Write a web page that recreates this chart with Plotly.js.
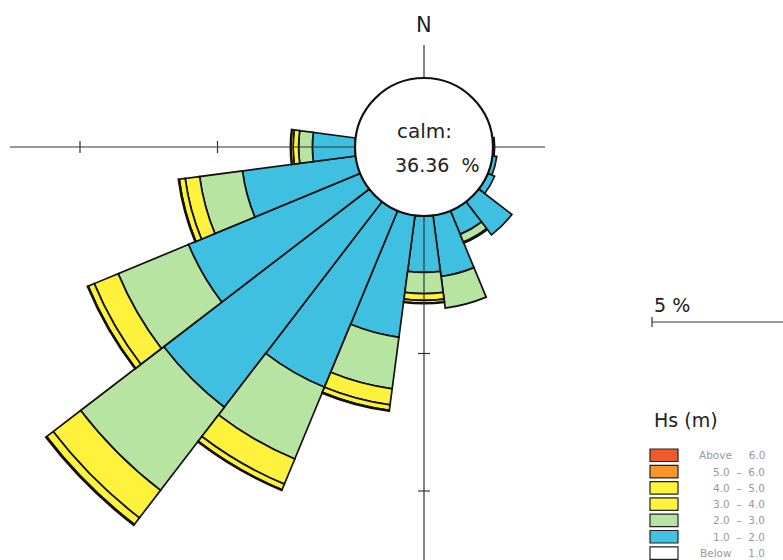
<!DOCTYPE html>
<html>
<head>
<meta charset="utf-8">
<script src="https://cdn.plot.ly/plotly-3.0.1.min.js"></script>
<style>
  html, body { margin:0; padding:0; width:783px; height:560px; overflow:hidden; background:#fff; }
  #chart { position:absolute; }
</style>
</head>
<body>
<div id="chart"></div>
<script>
// ---- data (percent of time per direction sector and Hs class) ----
const directions = [90, 105, 120, 135, 150, 165, 180, 195, 210, 225, 240, 255, 270];
const hs_1_2 = [0.06, 0.16, 0.27, 1.52, 0.93, 2.24, 2.05, 4.47, 6.95, 9.42, 6.76, 4.15, 1.55];
const hs_2_3 = [0, 0, 0, 0, 0.30, 1.16, 0.77, 1.89, 2.82, 3.81, 2.77, 1.57, 0.50];
const hs_3_4 = [0, 0, 0, 0, 0.05, 0, 0.25, 0.59, 0.99, 1.26, 0.94, 0.53, 0.20];
const hs_4_5 = [0, 0, 0, 0, 0, 0, 0.10, 0.20, 0.22, 0.30, 0.24, 0.22, 0.08];
const hs_5_6 = [0, 0, 0, 0, 0, 0, 0.02, 0.03, 0.03, 0.04, 0.03, 0.03, 0.02];
const hs_6p  = [0, 0, 0, 0, 0, 0, 0, 0, 0, 0, 0, 0, 0];
const calmPct = 36.36;
const radialTicks = [5, 10];
const scaleBarPct = 5;
const legendLabels = ['Above\u00A0\u00A0\u00A0\u00A0\u00A06.0', '5.0\u00A0\u00A0\u2013\u00A0\u00A06.0', '4.0\u00A0\u00A0\u2013\u00A0\u00A05.0',
                      '3.0\u00A0\u00A0\u2013\u00A0\u00A04.0', '2.0\u00A0\u00A0\u2013\u00A0\u00A03.0', '1.0\u00A0\u00A0\u2013\u00A0\u00A02.0',
                      'Below\u00A0\u00A0\u00A0\u00A0\u00A01.0'];
const legendColors = ['#F05A2A', '#F7962A', '#FFF23C', '#FFF23C', '#B8E4A2', '#42C2E2', '#FFFFFF'];

// ---- geometry ----
const CX = 424, CY = 147;          // rose centre in window pixels
const HOLE = 69;                   // calm circle radius (px)
const RMAX = 16;                   // radial range max (%)
const K = 27.5;                    // px per percent
const R = HOLE + RMAX * K;         // outer polar radius px
const W = 2 * R;                   // plot size
const OX = CX - R, OY = CY - R;    // plot offset in window
const el = document.getElementById('chart');
el.style.left = OX + 'px'; el.style.top = OY + 'px';
el.style.width = W + 'px'; el.style.height = W + 'px';
const px = vx => (vx - OX) / W;
const py = vy => 1 - (vy - OY) / W;
const rad = p => HOLE + p * K;

const nz = a => a.map(v => v > 0 ? v : null);
const series = [
  {name: '1.0 - 2.0', r: hs_1_2, c: '#3FC0E0'},
  {name: '2.0 - 3.0', r: hs_2_3, c: '#B7E4A1'},
  {name: '3.0 - 4.0', r: hs_3_4, c: '#FFF23C'},
  {name: '4.0 - 5.0', r: hs_4_5, c: '#FFF23C'},
  {name: '5.0 - 6.0', r: hs_5_6, c: '#F7962A'},
  {name: 'Above 6.0', r: hs_6p,  c: '#F05A2A'}
];
const traces = series.map(s => ({
  type: 'barpolar', name: s.name, theta: directions, r: nz(s.r), width: 15,
  marker: {color: s.c, line: {color: '#111', width: 1.7}}, showlegend: false
}));

const shapes = [];
const lineStyle = {color: '#333', width: 1.2};
// axis lines
shapes.push({type:'line', xref:'paper', yref:'paper', x0: px(CX - 414), x1: px(CX + 121), y0: py(CY), y1: py(CY), line: lineStyle});
shapes.push({type:'line', xref:'paper', yref:'paper', x0: px(CX), x1: px(CX), y0: py(CY - 102), y1: py(CY + 440), line: lineStyle});
radialTicks.forEach(t => {
  const d = rad(t);
  shapes.push({type:'line', xref:'paper', yref:'paper', x0: px(CX - d), x1: px(CX - d), y0: py(CY - 6), y1: py(CY + 6), line: lineStyle});
  shapes.push({type:'line', xref:'paper', yref:'paper', x0: px(CX - 6), x1: px(CX + 6), y0: py(CY + d), y1: py(CY + d), line: lineStyle});
});
// calm circle
shapes.push({type:'circle', xref:'paper', yref:'paper', x0: px(CX - HOLE), x1: px(CX + HOLE), y0: py(CY - HOLE), y1: py(CY + HOLE),
             fillcolor:'#fff', line:{color:'#111', width:2.2}});
// scale bar
const SBX = 652, SBY = 322;
shapes.push({type:'line', xref:'paper', yref:'paper', x0: px(SBX), x1: px(SBX + scaleBarPct * K), y0: py(SBY), y1: py(SBY), line: lineStyle});
shapes.push({type:'line', xref:'paper', yref:'paper', x0: px(SBX), x1: px(SBX), y0: py(SBY - 5), y1: py(SBY + 5), line: lineStyle});
// legend boxes
const LX = 650, LY = 449, LSTEP = 16.3;
legendColors.forEach((c, i) => {
  shapes.push({type:'rect', xref:'paper', yref:'paper', x0: px(LX), x1: px(LX + 28), y0: py(LY + i * LSTEP), y1: py(LY + i * LSTEP + 12.5),
               fillcolor: c, line:{color:'#222', width:1.2}});
});

const font = 'DejaVu Sans, sans-serif';
const annotations = [
  {text:'N', x: px(CX), y: py(25), xref:'paper', yref:'paper', showarrow:false, xanchor:'center', yanchor:'middle', font:{family:font, size:21, color:'#222'}},
  {text:'calm:', x: px(CX), y: py(131), xref:'paper', yref:'paper', showarrow:false, xanchor:'center', yanchor:'middle', font:{family:font, size:20, color:'#222'}},
  {text: calmPct.toFixed(2) + '\u00A0\u00A0%', x: px(CX + 13), y: py(165), xref:'paper', yref:'paper', showarrow:false, xanchor:'center', yanchor:'middle', font:{family:font, size:19, color:'#222'}},
  {text: scaleBarPct + '\u00A0%', x: px(SBX), y: py(305), xref:'paper', yref:'paper', showarrow:false, xanchor:'left', yanchor:'middle', font:{family:font, size:19, color:'#222'}},
  {text:'Hs\u00A0(m)', x: px(SBX), y: py(420), xref:'paper', yref:'paper', showarrow:false, xanchor:'left', yanchor:'middle', font:{family:font, size:19, color:'#222'}}
];
legendLabels.forEach((t, i) => {
  annotations.push({text: t, x: px(767), y: py(LY + i * LSTEP + 6.2), xref:'paper', yref:'paper', showarrow:false,
                    xanchor:'right', yanchor:'middle', font:{family:font, size:10.5, color:'#999'}});
});

const layout = {
  width: W, height: W, autosize: false,
  margin: {l:0, r:0, t:0, b:0, pad:0},
  paper_bgcolor: 'rgba(0,0,0,0)', plot_bgcolor: 'rgba(0,0,0,0)',
  showlegend: false,
  polar: {
    domain: {x:[0,1], y:[0,1]},
    hole: HOLE / R,
    bgcolor: 'rgba(0,0,0,0)',
    barmode: 'stack',
    radialaxis: {range:[0, RMAX], visible:false, showgrid:false, showline:false, showticklabels:false, ticks:''},
    angularaxis: {rotation:90, direction:'clockwise', visible:false, showgrid:false, showline:false, showticklabels:false, ticks:''}
  },
  shapes: shapes,
  annotations: annotations
};
Plotly.newPlot(el, traces, layout, {staticPlot:true, displayModeBar:false});
</script>
</body>
</html>
